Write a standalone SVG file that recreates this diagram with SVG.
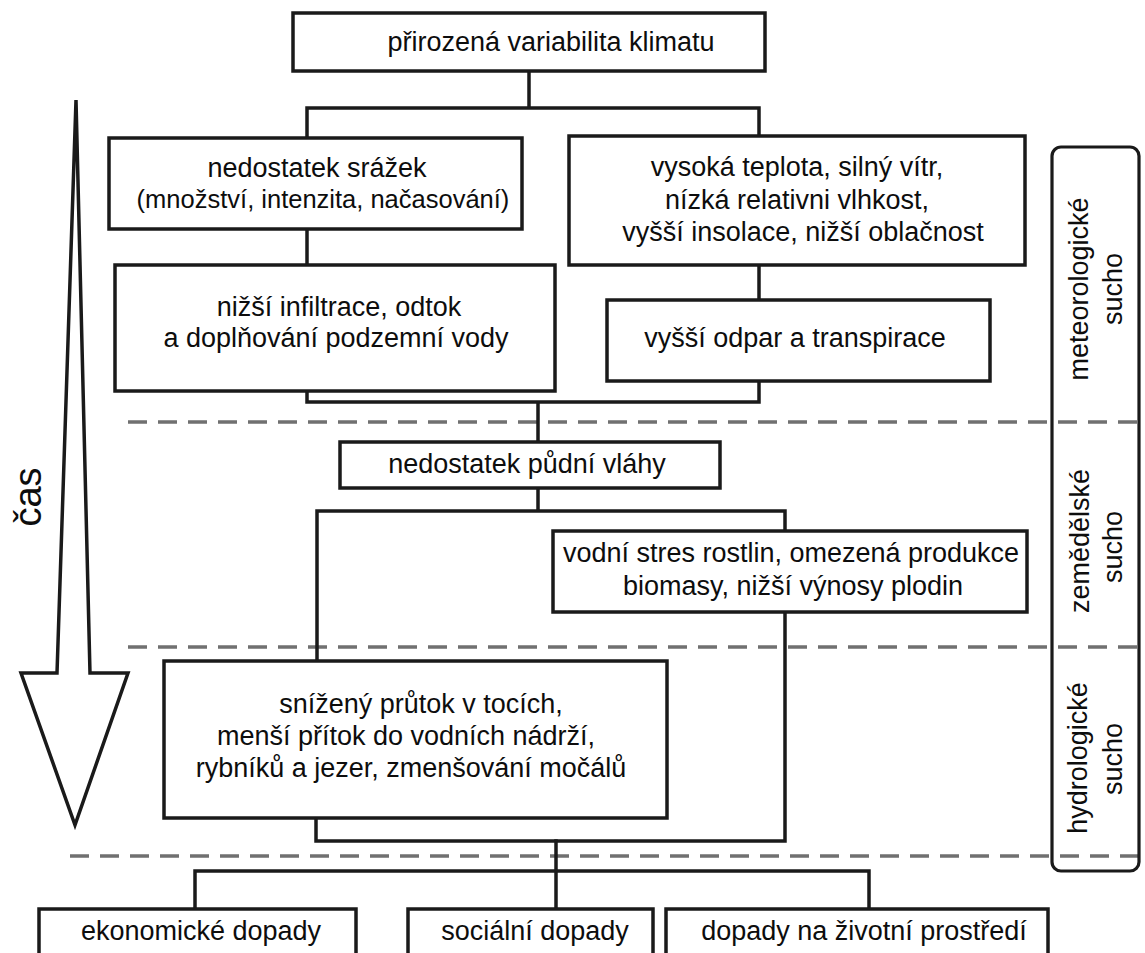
<svg xmlns="http://www.w3.org/2000/svg" width="1145" height="953" viewBox="0 0 1145 953">
<style>
.box{fill:#fff;stroke:#1a1a1a;stroke-width:3.5}
.con{fill:none;stroke:#1a1a1a;stroke-width:3.5;stroke-linecap:square}
.dash{fill:none;stroke:#707070;stroke-width:3.6;stroke-dasharray:19 11}
text{font-family:"Liberation Sans",Arial,sans-serif;font-size:27px;fill:#0d0d0d}
.m{text-anchor:middle}
</style>
<rect width="1145" height="953" fill="#fff"/>
<g id="separators">
<path class="dash" d="M128,422H1145M128,647H1145M70,856H1145"/>
</g>
<g id="time-arrow">
<polygon points="76,100 90,673 128,673 75,825 21,673 57,673" fill="#fff" stroke="#1a1a1a" stroke-width="3.5" stroke-linejoin="miter"/>
<text class="m" transform="translate(41,497) rotate(-90)" style="font-size:38px">čas</text>
</g>
<g id="phases">
<rect x="1052" y="147" width="87" height="724" rx="9" fill="none" stroke="#1a1a1a" stroke-width="3.2"/>
<text class="m" transform="translate(1088,289) rotate(-90)">meteorologické</text>
<text class="m" transform="translate(1122,289) rotate(-90)">sucho</text>
<text class="m" transform="translate(1089,541) rotate(-90)">zemědělské</text>
<text class="m" transform="translate(1122,547) rotate(-90)">sucho</text>
<text class="m" transform="translate(1087,758) rotate(-90)">hydrologické</text>
<text class="m" transform="translate(1122,759) rotate(-90)">sucho</text>
</g>
<g id="connectors">
<path class="con" d="M529,71V108M307,108H759M307,108V138M759,108V136"/>
<path class="con" d="M307,229V265"/>
<path class="con" d="M759,265V300"/>
<path class="con" d="M307,391V402H759V381M538,402V442"/>
<path class="con" d="M538,488V511M317,511H785M785,511V531M317,511V661"/>
<path class="con" d="M785,612V841H316V818"/>
<path class="con" d="M556,841V909M195,871H869M195,871V909M869,871V909"/>
</g>
<g id="n-climate">
<rect class="box" x="293" y="13" width="472" height="58"/>
<text class="m" x="551" y="51">přirozená variabilita klimatu</text>
</g>
<g id="n-precip">
<rect class="box" x="109" y="138" width="413" height="91"/>
<text class="m" x="317" y="177">nedostatek srážek</text>
<text class="m" x="323" y="208" style="font-size:25.5px">(množství, intenzita, načasování)</text>
</g>
<g id="n-weather">
<rect class="box" x="569" y="136" width="456" height="129"/>
<text class="m" x="797" y="176">vysoká teplota, silný vítr,</text>
<text class="m" x="797" y="209">nízká relativni vlhkost,</text>
<text class="m" x="803" y="241">vyšší insolace, nižší oblačnost</text>
</g>
<g id="n-infiltration">
<rect class="box" x="115" y="265" width="440" height="126"/>
<text class="m" x="339" y="316">nižší infiltrace, odtok</text>
<text class="m" x="336" y="347">a doplňování podzemní vody</text>
</g>
<g id="n-evaporation">
<rect class="box" x="607" y="300" width="383" height="81"/>
<text class="m" x="795" y="347">vyšší odpar a transpirace</text>
</g>
<g id="n-soil">
<rect class="box" x="340" y="442" width="380" height="46"/>
<text class="m" x="527" y="473">nedostatek půdní vláhy</text>
</g>
<g id="n-plants">
<rect class="box" x="553" y="531" width="474" height="81"/>
<text class="m" x="791" y="562">vodní stres rostlin, omezená produkce</text>
<text class="m" x="793" y="595">biomasy, nižší výnosy plodin</text>
</g>
<g id="n-flow">
<rect class="box" x="164" y="661" width="503" height="157"/>
<text class="m" x="421" y="713">snížený průtok v tocích,</text>
<text class="m" x="406" y="745">menší přítok do vodních nádrží,</text>
<text class="m" x="411" y="777">rybníků a jezer, zmenšování močálů</text>
</g>
<g id="n-economic">
<rect class="box" x="39" y="909" width="317" height="70"/>
<text class="m" x="201" y="940">ekonomické dopady</text>
</g>
<g id="n-social">
<rect class="box" x="408" y="909" width="245" height="70"/>
<text class="m" x="535" y="940">sociální dopady</text>
</g>
<g id="n-environment">
<rect class="box" x="666" y="909" width="382" height="70"/>
<text class="m" x="864" y="940">dopady na životní prostředí</text>
</g>
</svg>
